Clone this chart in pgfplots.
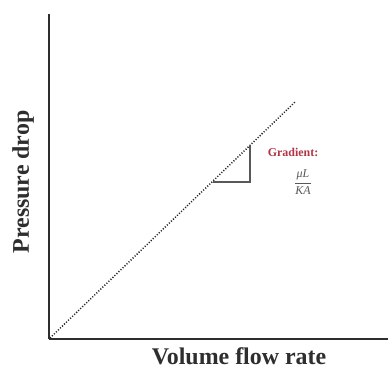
\documentclass[border=0pt]{standalone}
\usepackage{pgfplots}
\pgfplotsset{compat=1.18}
\usepackage{fontspec}
\setmainfont{Liberation Serif}
\definecolor{axisgray}{HTML}{2E2E2E}
\definecolor{gradred}{HTML}{B03545}
\begin{document}
\begin{tikzpicture}[x=1bp,y=1bp]
\path[use as bounding box] (0,0) rectangle (388,368);
\begin{axis}[
  at={(49bp,29bp)}, anchor=origin,
  scale only axis, width=339bp, height=325bp,
  xmin=0, xmax=339, ymin=0, ymax=325,
  axis lines=left, axis line style={-, line width=2.6bp, draw=axisgray},
  xtick=\empty, ytick=\empty,
  clip=false,
]
\addplot[no marks, black!85, line width=1.5bp, dash pattern=on 1.1bp off 1.7bp] coordinates {(1,1) (246,237)};
\addplot[no marks, axisgray!80, line width=1.3bp] coordinates {(164,157) (201,157) (201,193)};
\node[font=\fontsize{24}{28}\selectfont\bfseries, text=axisgray] at (axis cs:190,-17) {Volume flow rate};
\node[font=\fontsize{24}{28}\selectfont\bfseries, rotate=90, text=axisgray] at (axis cs:-26,157) {Pressure drop};
\node[font=\fontsize{12}{14}\selectfont\bfseries, text=gradred] at (axis cs:244,187) {Gradient:};
\node[text=axisgray!80, font=\fontsize{12}{14}\selectfont] at (axis cs:254,157) {$\displaystyle\frac{\textit{μL}}{\textit{KA}}$};
\end{axis}
\end{tikzpicture}
\end{document}
